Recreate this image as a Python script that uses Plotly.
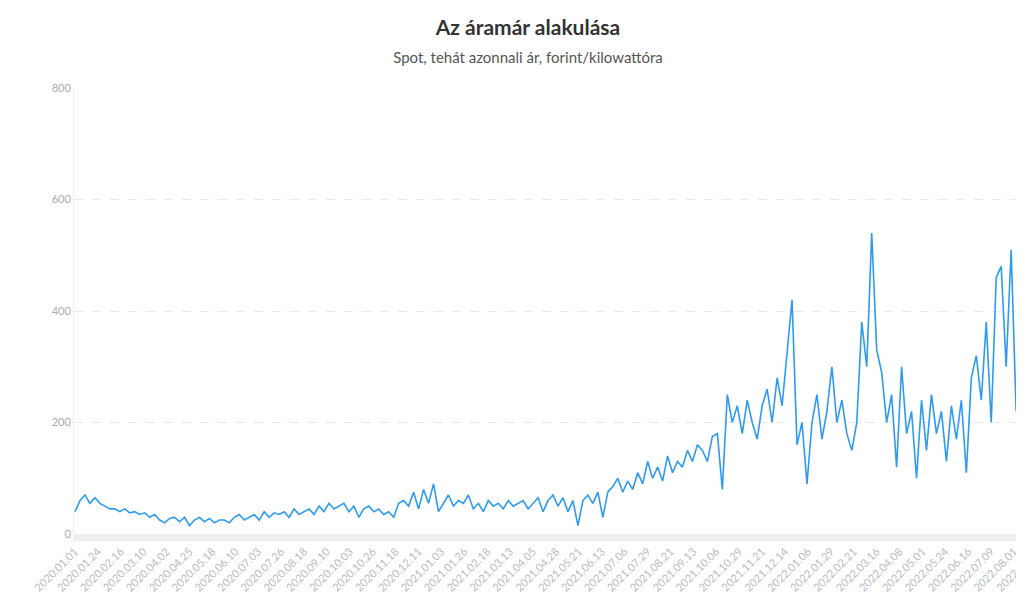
import plotly.graph_objects as go
import pandas as pd

# Spot ár, 5 naponkénti becsült értékek (forint/kWh)
start_date = "2020-01-01"
step_days = 5
prices = [
    40, 60, 70, 55, 65, 55,
    50, 45, 45, 40, 45, 38,
    40, 35, 38, 30, 35, 25,
    20, 28, 30, 22, 30, 15,
    25, 30, 22, 28, 20, 25,
    25, 20, 30, 35, 25, 30,
    35, 25, 40, 30, 38, 35,
    40, 30, 45, 35, 40, 45,
    35, 50, 40, 55, 45, 50,
    55, 40, 50, 30, 45, 50,
    40, 45, 35, 40, 30, 55,
    60, 50, 75, 45, 80, 55,
    90, 40, 55, 70, 50, 60,
    55, 70, 45, 55, 40, 60,
    50, 55, 45, 60, 50, 55,
    60, 45, 55, 65, 40, 60,
    70, 50, 65, 40, 60, 15,
    60, 70, 55, 75, 30, 75,
    85, 100, 75, 95, 80, 110,
    90, 130, 100, 120, 95, 140,
    110, 130, 120, 150, 130, 160,
    150, 130, 175, 180, 80, 250,
    200, 230, 180, 240, 200, 170,
    230, 260, 200, 280, 230, 330,
    420, 160, 200, 90, 200, 250,
    170, 220, 300, 200, 240, 180,
    150, 200, 380, 300, 540, 330,
    290, 200, 250, 120, 300, 180,
    220, 100, 240, 150, 250, 180,
    220, 130, 230, 170, 240, 110,
    280, 320, 240, 380, 200, 460,
    480, 300, 510, 220, 560, 400,
    700, 750, 560,
]
dates = pd.date_range(start_date, periods=len(prices), freq=f"{step_days}D")
tick_dates = pd.date_range("2020-01-01", "2022-08-31", freq="23D")

fig = go.Figure()
fig.add_trace(go.Scatter(x=dates, y=prices, mode="lines",
                         line=dict(color="#2f9bf0", width=1.6), hoverinfo="x+y"))

fig.update_layout(
    width=1040, height=609,
    paper_bgcolor="white", plot_bgcolor="white",
    font=dict(family="Lato, Open Sans, sans-serif", color="#444"),
    title=dict(text="<b>Az áramár alakulása</b><br><span style='font-size:15px;color:#555'>Spot, tehát azonnali ár, forint/kilowattóra</span>",
               x=0.5, xanchor="center", yref="container", y=0.955, yanchor="top",
               font=dict(size=21, color="#333")),
    margin=dict(l=66, r=0, t=80, b=83),
    showlegend=False,
)
fig.update_xaxes(
    range=[dates[0] - pd.Timedelta(days=1), pd.Timestamp("2022-09-04")],
    tickvals=tick_dates, tickformat="%Y.%m.%d", tickangle=-45,
    tickfont=dict(size=11, color="#bbb"), showgrid=False,
    showline=True, linecolor="#eee", linewidth=7, ticks="",
)
fig.update_yaxes(
    range=[0, 800], tickvals=[0, 200, 400, 600, 800],
    tickfont=dict(size=11, color="#aaa"),
    gridcolor="#e8e8e8", griddash="dash", zeroline=False,
    showline=True, linecolor="#eee", linewidth=1,
)

fig.write_html("out.html")
